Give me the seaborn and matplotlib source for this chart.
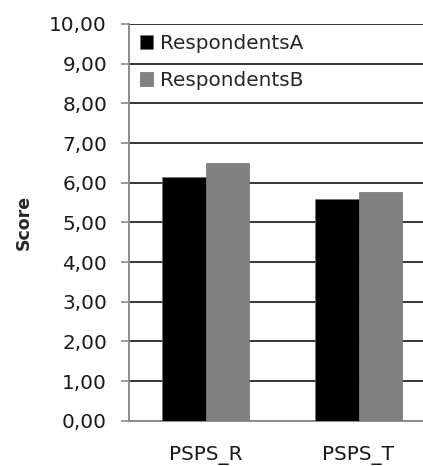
import numpy as np
import pandas as pd
import matplotlib
matplotlib.use('Agg')
import matplotlib.pyplot as plt
import seaborn as sns
from matplotlib.ticker import FuncFormatter

categories = ['PSPS_R', 'PSPS_T']
groups = ['RespondentsA', 'RespondentsB']
scoresA = [6.15, 5.58]
scoresB = [6.50, 5.77]
yTicks = np.arange(0, 11, 1)

df = pd.DataFrame({
    'category': categories * 2,
    'group': [groups[0]] * len(categories) + [groups[1]] * len(categories),
    'score': scoresA + scoresB,
})

sns.set_style('white')
plt.rcParams['font.family'] = ['DejaVu Sans']

fig = plt.figure(figsize=(4.23, 4.66), dpi=100)
ax = fig.add_axes([129 / 423, 45.3 / 466, 306 / 423, 396.7 / 466])

sns.barplot(data=df, x='category', y='score', hue='group', palette=['#000000', '#808080'],
            width=0.57, ax=ax, edgecolor='#707070', linewidth=0.5, saturation=1, zorder=3)

ax.set_ylim(0, 10)
ax.set_xlim(-0.5, 1.5)
ax.set_yticks(yTicks)
ax.yaxis.set_major_formatter(FuncFormatter(lambda v, p: f'{v:.2f}'.replace('.', ',')))
ax.yaxis.grid(True, color='black', linewidth=1.1, zorder=0)
ax.set_axisbelow(True)

for s in ['top', 'right']:
    ax.spines[s].set_visible(False)
for s in ['left', 'bottom']:
    ax.spines[s].set_color('#8c8c8c')
    ax.spines[s].set_linewidth(1.4)

ax.tick_params(axis='y', which='major', left=True, length=5.8, width=1.2, color='#8c8c8c',
               labelsize=14.4, pad=10, labelcolor='#1a1a1a')
ax.tick_params(axis='x', bottom=False, labelsize=14.4, pad=15, labelcolor='#1a1a1a')

ax.set_xlabel('')
ax.set_ylabel('Score', fontsize=12.5, fontweight='bold', labelpad=12)

ax.legend(loc='upper left', bbox_to_anchor=(-0.002, 1.005), frameon=False, fontsize=14.4,
          handlelength=0.65, handleheight=0.65, handletextpad=0.35, labelspacing=0.9,
          borderaxespad=0.2)

fig.savefig('out.png', dpi=100)
